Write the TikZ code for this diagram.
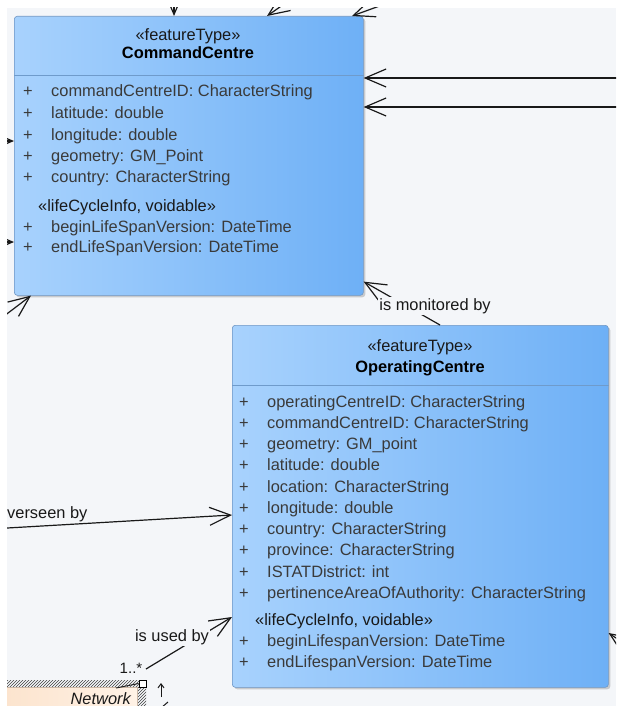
\documentclass[tikz,border=0pt]{standalone}
\usepackage{fontspec}
\setmainfont{Liberation Sans}
\usetikzlibrary{arrows.meta,shadows,patterns,calc}
\definecolor{bgc}{HTML}{F4F6F9}
\definecolor{boxL}{HTML}{A8D2FD}
\definecolor{boxR}{HTML}{6EB0F6}
\definecolor{boxB}{HTML}{6E96C4}
\definecolor{sepc}{HTML}{6F9BCB}
\definecolor{attrc}{HTML}{3A3A3A}
\definecolor{netL}{HTML}{FCE4CE}
\definecolor{netR}{HTML}{FFF2E6}
\tikzset{
  classbox/.style={rectangle, rounded corners=3pt, draw=boxB, line width=0.6pt,
    left color=boxL, right color=boxR, inner sep=0pt,
    drop shadow={shadow xshift=2pt, shadow yshift=-2pt, opacity=0.3, fill=black!60}},
  sepline/.style={draw=sepc, line width=0.7pt},
  attr/.style={font=\fontsize{16.4}{19}\selectfont, text=attrc, anchor=base west, inner sep=0pt},
  plus/.style={font=\fontsize{16.4}{19}\selectfont, text=attrc, anchor=base, inner sep=0pt},
  stereo/.style={font=\fontsize{16.4}{19}\selectfont, text=black!90, anchor=base, inner sep=0pt},
  lcinfo/.style={font=\fontsize{16.4}{19}\selectfont, text=black!90, anchor=base west, inner sep=0pt},
  cname/.style={font=\fontsize{16.4}{19}\selectfont\bfseries, text=black, anchor=base, inner sep=0pt},
  assoc/.style={draw=black!90, line width=1.2pt, -{Straight Barb[length=21pt,width=18pt]}},
  lbl/.style={font=\fontsize{16.4}{19}\selectfont, text=black!90, fill=bgc, inner sep=1pt},
}
\begin{document}
\begin{tikzpicture}[x=1pt,y=-1pt]
\useasboundingbox (0,0) rectangle (616,706);
\fill[white] (0,0) rectangle (616,706);
\begin{scope}
\clip (7,8) rectangle (616,706);
\fill[bgc] (7,8) rectangle (616,706);

% ---------- CommandCentre ----------
\node[classbox, minimum width=349pt, minimum height=279pt, anchor=north west] (cc) at (14,16) {};
\draw[sepline] ([yshift=-59pt]cc.north west) -- ([yshift=-59pt]cc.north east);
\node[stereo] (ccst) at (188,41) {«featureType»};
\node[cname] (ccnm) at (188,59) {CommandCentre};
\foreach \y/\t [count=\i] in {97/commandCentreID: CharacterString, 118/latitude: double,
   140/longitude: double, 161/geometry: GM\_Point, 182/country: CharacterString,
   232/beginLifeSpanVersion: DateTime, 252/endLifeSpanVersion: DateTime}{
  \node[plus] (ccp\i) at (28,\y) {+};
  \node[attr] (cca\i) at (51,\y) {\t};
}
\node[lcinfo] (cclc) at (38,211) {«lifeCycleInfo, voidable»};

% ---------- OperatingCentre ----------
\node[classbox, minimum width=376pt, minimum height=362pt, anchor=north west] (oc) at (232,325) {};
\draw[sepline] ([yshift=-60pt]oc.north west) -- ([yshift=-60pt]oc.north east);
\node[stereo] (ocst) at (420,351) {«featureType»};
\node[cname] (ocnm) at (420,372) {OperatingCentre};
\foreach \y/\t [count=\i] in {407/operatingCentreID: CharacterString, 428/commandCentreID: CharacterString,
   449/geometry: GM\_point, 470/latitude: double, 492/location: CharacterString,
   513/longitude: double, 534/country: CharacterString, 555/province: CharacterString,
   577/ISTATDistrict: int, 598/pertinenceAreaOfAuthority: CharacterString,
   646/beginLifespanVersion: DateTime, 667/endLifespanVersion: DateTime}{
  \node[plus] (ocp\i) at (244,\y) {+};
  \node[attr] (oca\i) at (267,\y) {\t};
}
\node[lcinfo] (oclc) at (255,625) {«lifeCycleInfo, voidable»};

% ---------- Network (partial) ----------
\fill[pattern=north east lines, pattern color=black!75] (7,680) rectangle (140,687);
\fill[pattern=north east lines, pattern color=black!75] (137,687) rectangle (146,706);
\node[rectangle, draw=netL!80!black, line width=0.4pt, left color=netL, right color=netR,
  minimum width=131pt, minimum height=24pt, anchor=north west, inner sep=0pt] (net) at (6,687) {};
\node[font=\fontsize{16.4}{19}\selectfont\itshape, text=black!90, anchor=base east, inner sep=0pt] (netl) at (131,704) {Network};
\node[draw=black, fill=white, minimum size=7pt, inner sep=0pt, line width=0.8pt] (sq) at (142.5,683.5) {};
\coordinate (nx1) at (116,688);
\draw[black!85, line width=1pt] (nx1) -- (sq.west);
\coordinate (ua) at (161,697);
\coordinate (ub) at (161,683);
\draw[black!90, line width=1pt, -{Straight Barb[length=4pt,width=6pt]}] (ua) -- (ub);
\coordinate (uc) at (161,708);
\coordinate (ud) at (168,702);
\draw[black!90, line width=1pt] (uc) -- (ud);

% ---------- connectors ----------
% right side into CommandCentre
\coordinate (r1) at (640,78);
\coordinate (r2) at (640,107);
\draw[assoc] (r1) -- (r1 -| cc.east);
\draw[assoc] (r2) -- (r2 -| cc.east);
% top
\coordinate (t1) at (174,-30);
\draw[assoc] (t1) -- (t1 |- cc.north);
\coordinate (t2) at (310,-14);
\draw[assoc] (t2) -- ([xshift=253pt]cc.north west);
\coordinate (t3) at (418,-8);
\draw[assoc] (t3) -- ([xshift=338pt]cc.north west);
% left
\coordinate (l1) at (-40,141);
\coordinate (l2) at (-40,242);
\draw[assoc] (l1) -- (l1 -| cc.west);
\draw[assoc] (l2) -- (l2 -| cc.west);
\coordinate (bl) at (-13,329);
\draw[assoc] (bl) -- ([xshift=17pt]cc.south west);
% is monitored by
\draw[assoc] ([xshift=208pt]oc.north west) -- ([yshift=14pt]cc.south east);
\node[lbl] (monl) at (435,306) {is monitored by};
% overseen by
\coordinate (ov) at (-10,529);
\draw[assoc] (ov) -- ([yshift=-190pt]oc.north west);
\node[font=\fontsize{16.4}{19}\selectfont, text=black!90, anchor=base west, inner sep=0pt] (ovl) at (7,518) {verseen by};
% is used by
\coordinate (us) at (146,669);
\draw[assoc] (us) -- ([yshift=-292pt]oc.north west);
\node[lbl] (usl) at (172,637) {is used by};
\node[font=\fontsize{15}{18}\selectfont, text=black!90, inner sep=0pt] (mult) at (131,668) {1..*};
% bottom right
\coordinate (br) at (650,661);
\draw[assoc] (br) -- ([yshift=-308pt]oc.north east);
\end{scope}
\end{tikzpicture}
\end{document}
